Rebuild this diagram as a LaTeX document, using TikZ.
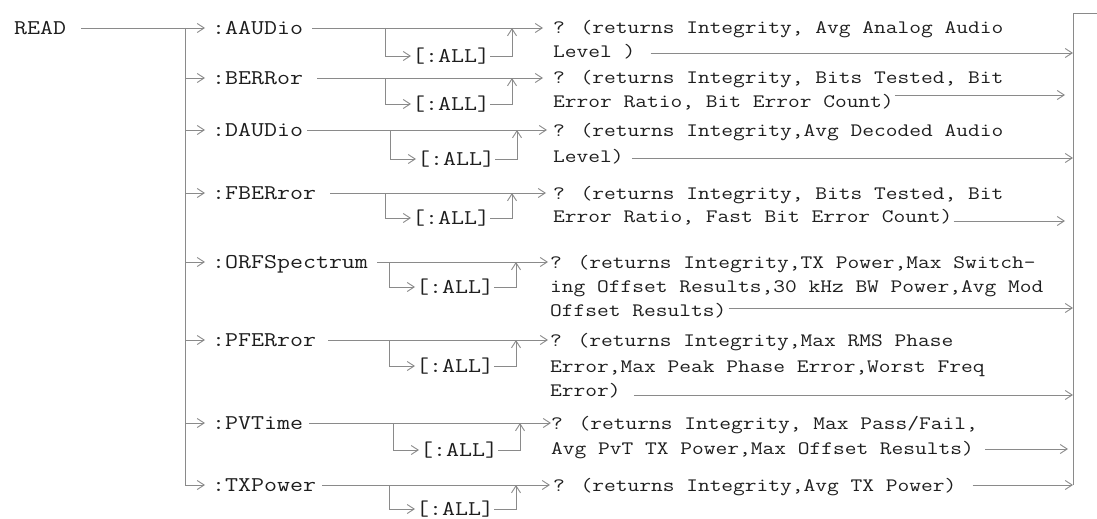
\documentclass[tikz,border=0pt]{standalone}
\usepackage{fontspec}
\newfontfamily\courfont[FakeStretch=1.2]{Latin Modern Mono}
\usetikzlibrary{arrows.meta}
\definecolor{lncol}{HTML}{8A8A8A}
\definecolor{txcol}{HTML}{1E1E1E}
\begin{document}
\begin{tikzpicture}[x=1pt,y=-1pt,
  nm/.style={anchor=west,inner sep=0pt,text height=13pt,text depth=0pt,font=\courfont\fontsize{21}{25}\selectfont,text=txcol},
  ds/.style={anchor=west,inner sep=0pt,text height=12pt,text depth=0pt,font=\courfont\fontsize{19}{23}\selectfont,text=txcol},
  ln/.style={draw=lncol,line width=0.9pt},
  arr/.style={ln,-{Straight Barb[length=7pt,width=9pt]}},
]
\useasboundingbox (0,0) rectangle (1097,519);

% right collector bus
\coordinate (redge) at (1097,13);
\coordinate (rtop) at (1073,13);
\coordinate (rbot) at (1073,485);
\draw[ln] (redge) -- (rtop) -- (rbot);

% root and command names
\node[nm] (read) at (14,28) {READ};
\node[nm] (nA) at (212,28) {:AAUDio};
\node[nm] (nB) at (212,78) {:BERRor};
\node[nm] (nD) at (212,130) {:DAUDio};
\node[nm] (nF) at (212,193) {:FBERror};
\node[nm] (nO) at (212,262) {:ORFSpectrum};
\node[nm] (nP) at (212,340) {:PFERror};
\node[nm] (nV) at (212,423) {:PVTime};
\node[nm] (nT) at (212,485) {:TXPower};

% left bus
\coordinate (lbtop) at (185,28);
\coordinate (lbbot) at (185,485);
\draw[arr] ([xshift=15pt]read.east) -- ([xshift=-7pt]nA.west);
\draw[ln] (lbtop) -- (lbbot);
\draw[arr] (lbtop |- nB.west) -- ([xshift=-7pt]nB.west);
\draw[arr] (lbtop |- nD.west) -- ([xshift=-7pt]nD.west);
\draw[arr] (lbtop |- nF.west) -- ([xshift=-7pt]nF.west);
\draw[arr] (lbtop |- nO.west) -- ([xshift=-7pt]nO.west);
\draw[arr] (lbtop |- nP.west) -- ([xshift=-7pt]nP.west);
\draw[arr] (lbtop |- nV.west) -- ([xshift=-7pt]nV.west);
\draw[arr] (lbbot) -- ([xshift=-7pt]nT.west);

% ---------- Row A
\node[nm] (allA) at (412,56) {[:ALL]};
\coordinate (bA) at (385,28);
\coordinate (uA) at (512,28);
\coordinate (pA) at (543,28);
\node[ds] (tA1) at (553,28) {? (returns Integrity, Avg Analog Audio};
\node[ds] (tA2) at (553,51) {Level )};
\draw[arr] ([xshift=9pt]nA.east) -- (pA);
\draw[arr] (bA) |- ([xshift=-1pt]allA.west);
\draw[arr] (allA.east) -| (uA);
\path ([xshift=15pt,yshift=-2pt]tA2.east) coordinate (eA);
\draw[arr] (eA) -- (eA -| rtop);

% ---------- Row B
\node[nm] (allB) at (412,104) {[:ALL]};
\coordinate (bB) at (385,78);
\coordinate (uB) at (512,78);
\coordinate (pB) at (543,78);
\node[ds] (tB1) at (553,78) {? (returns Integrity, Bits Tested, Bit};
\node[ds] (tB2) at (553,101) {Error Ratio, Bit Error Count)};
\draw[arr] ([xshift=14pt]nB.east) -- (pB);
\draw[arr] (bB) |- ([xshift=-1pt]allB.west);
\draw[arr] (allB.east) -| (uB);
\path ([xshift=1pt,yshift=6pt]tB2.east) coordinate (eB);
\draw[arr,shorten >=8pt] (eB) -- (eB -| rtop);

% ---------- Row D
\node[nm] (allD) at (417,159) {[:ALL]};
\coordinate (bD) at (390,130);
\coordinate (uD) at (517,130);
\coordinate (pD) at (547,130);
\node[ds] (tD1) at (553,130) {? (returns Integrity,Avg Decoded Audio};
\node[ds] (tD2) at (553,156) {Level)};
\draw[arr] ([xshift=4pt]nD.east) -- (pD);
\draw[arr] (bD) |- ([xshift=-1pt]allD.west);
\draw[arr] (allD.east) -| (uD);
\path ([xshift=8pt,yshift=-2pt]tD2.east) coordinate (eD);
\draw[arr] (eD) -- (eD -| rtop);

% ---------- Row F
\node[nm] (allF) at (412,218) {[:ALL]};
\coordinate (bF) at (385,193);
\coordinate (uF) at (512,193);
\coordinate (pF) at (546,193);
\node[ds] (tF1) at (553,193) {? (returns Integrity, Bits Tested, Bit};
\node[ds] (tF2) at (553,216) {Error Ratio, Fast Bit Error Count)};
\draw[arr] ([xshift=14pt]nF.east) -- (pF);
\draw[arr] (bF) |- ([xshift=-1pt]allF.west);
\draw[arr] (allF.east) -| (uF);
\path ([xshift=1pt,yshift=-5pt]tF2.east) coordinate (eF);
\draw[arr,shorten >=8pt] (eF) -- (eF -| rtop);

% ---------- Row O
\node[nm] (allO) at (416,287) {[:ALL]};
\coordinate (bO) at (389,262);
\coordinate (uO) at (516,262);
\coordinate (pO) at (548,262);
\node[ds] (tO1) at (550,262) {? (returns Integrity,TX Power,Max Switch-};
\node[ds] (tO2) at (550,286) {ing Offset Results,30 kHz BW Power,Avg Mod};
\node[ds] (tO3) at (550,310) {Offset Results)};
\draw[arr] ([xshift=9pt]nO.east) -- (pO);
\draw[arr] (bO) |- ([xshift=-1pt]allO.west);
\draw[arr] (allO.east) -| (uO);
\path ([xshift=2pt,yshift=2pt]tO3.east) coordinate (eO);
\draw[arr] (eO) -- (eO -| rtop);

% ---------- Row P
\node[nm] (allP) at (416,366) {[:ALL]};
\coordinate (bP) at (389,340);
\coordinate (uP) at (516,340);
\coordinate (pP) at (548,340);
\node[ds] (tP1) at (550,340) {? (returns Integrity,Max RMS Phase};
\node[ds] (tP2) at (550,366) {Error,Max Peak Phase Error,Worst Freq};
\node[ds] (tP3) at (550,390) {Error)};
\draw[arr] ([xshift=12pt]nP.east) -- (pP);
\draw[arr] (bP) |- ([xshift=-1pt]allP.west);
\draw[arr] (allP.east) -| (uP);
\path ([xshift=13pt,yshift=-5pt]tP3.east) coordinate (eP);
\draw[arr] (eP) -- (eP -| rtop);

% ---------- Row V
\node[nm] (allV) at (420,450) {[:ALL]};
\coordinate (bV) at (393,423);
\coordinate (uV) at (520,423);
\coordinate (pV) at (551,423);
\node[ds] (tV1) at (551,423) {? (returns Integrity, Max Pass/Fail,};
\node[ds] (tV2) at (551,448) {Avg PvT TX Power,Max Offset Results)};
\draw[arr] ([xshift=6pt]nV.east) -- (pV);
\draw[arr] (bV) |- ([xshift=-1pt]allV.west);
\draw[arr] (allV.east) -| (uV);
\path ([xshift=11pt,yshift=-1pt]tV2.east) coordinate (eV);
\draw[arr,shorten >=5pt] (eV) -- (eV -| rtop);

% ---------- Row T
\node[nm] (allT) at (416,509) {[:ALL]};
\coordinate (bT) at (389,485);
\coordinate (uT) at (516,485);
\coordinate (pT) at (550,485);
\node[ds] (tT1) at (553,485) {? (returns Integrity,Avg TX Power)};
\draw[arr] ([xshift=6pt]nT.east) -- (pT);
\draw[arr] (bT) |- ([xshift=-1pt]allT.west);
\draw[arr] (allT.east) -| (uT);
\path ([xshift=16pt]tT1.east) coordinate (eT);
\draw[arr] (eT) -- (eT -| rtop);
\end{tikzpicture}
\end{document}
